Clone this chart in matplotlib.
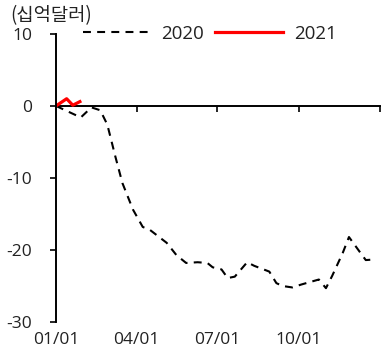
import matplotlib
matplotlib.use("Agg")
import matplotlib.pyplot as plt

plt.rcParams['font.family'] = ['Open Sans', 'Noto Sans CJK KR', 'DejaVu Sans']
plt.rcParams['axes.unicode_minus'] = False

# 날짜(연초부터 경과일)와 값 (십억달러)
days_2020 = [0, 28, 40, 50, 58, 67, 75, 87, 98, 106, 125, 136, 147, 160, 171,
             177, 187, 194, 202, 216, 224, 241, 249, 256, 267, 277, 297, 305,
             312, 324, 331, 344, 350, 362]
vals_2020 = [0, -1.6, -0.2, -0.6, -2.6, -7.0, -10.7, -14.4, -16.8, -17.2, -19.0,
             -20.7, -21.8, -21.7, -21.8, -22.4, -22.7, -23.9, -23.7, -21.7, -22.2,
             -23.0, -24.6, -25.0, -25.2, -24.8, -24.1, -25.3, -23.6, -20.4, -18.2,
             -20.4, -21.4, -21.3]

days_2021 = [0, 12, 19, 27]
vals_2021 = [0, 1.0, 0.1, 0.6]

xtick_pos = [0, 91, 182, 274]
xtick_lab = ['01/01', '04/01', '07/01', '10/01']
yticks = [-30, -20, -10, 0, 10]

fig = plt.figure(figsize=(3.82, 3.57), dpi=100)
ax = fig.add_axes([0.1466, 0.098, 0.848, 0.807])

ax.plot(days_2020, vals_2020, color='black', lw=1.5, dashes=(3.8, 3.0), label='2020')
ax.plot(days_2021, vals_2021, color='#ff0000', lw=2.3, label='2021')

ax.set_xlim(0, 366)
ax.set_ylim(-30, 10)

for s in ['top', 'right', 'bottom']:
    ax.spines[s].set_visible(False)
ax.spines['left'].set_linewidth(1.4)

ax.set_yticks(yticks)
ax.tick_params(axis='y', direction='out', length=4, width=1.2, pad=13, labelsize=12.5,
               labelcolor='#222222', color='black')
ax.set_xticks(xtick_pos)
ax.set_xticklabels(xtick_lab)
ax.tick_params(axis='x', length=0, pad=7, labelsize=12.5, labelcolor='#222222')

# 0 기준선과 눈금
sec = ax.secondary_xaxis(0.75)
sec.set_xticks(xtick_pos[1:] + [366])
sec.tick_params(axis='x', direction='in', length=4, width=1.2, labelbottom=False, labeltop=False)
sec.set_xticklabels([])
for s in sec.spines.values():
    s.set_linewidth(1.4)

ax.legend(loc='center left', bbox_to_anchor=(0.03, 1.0), ncol=2, frameon=False,
          fontsize=13.5, handlelength=3.6, columnspacing=0.6, handletextpad=0.6,
          labelcolor='#222222')

fig.text(0.026, 0.955, '(십억달러)', fontsize=13.5, color='#222222', va='center',
         family=['Noto Sans CJK KR', 'DejaVu Sans'])

fig.savefig('out.png', dpi=100)
